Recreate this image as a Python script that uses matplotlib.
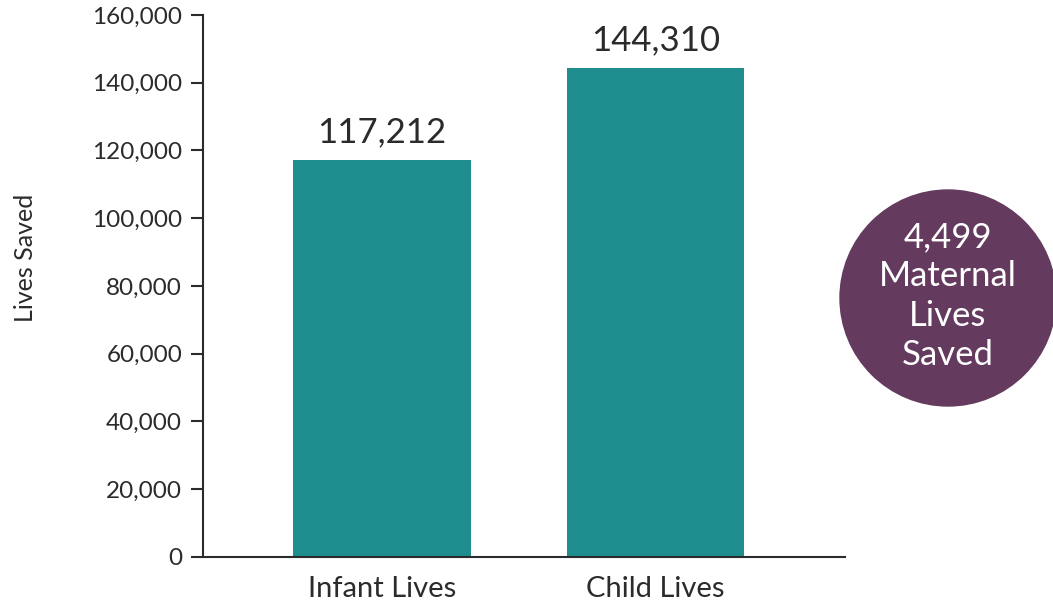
import matplotlib
matplotlib.use("Agg")
from matplotlib import pyplot as plt
from matplotlib.patches import Ellipse

categories = ["Infant Lives", "Child Lives"]
lives_saved = [117212, 144310]
maternal_saved = 4499
yticks = [0, 20000, 40000, 60000, 80000, 100000, 120000, 140000, 160000]

teal = "#1e8e8e"
purple = "#643a5e"
dark = "#2b2b2b"

plt.rcParams["font.family"] = ["Lato", "DejaVu Sans"]

fig = plt.figure(figsize=(10.53, 6.07), dpi=100)
ax = fig.add_axes([0.1928, 0.0824, 0.61, 0.893])

xs = range(len(categories))
ax.bar(xs, lives_saved, width=0.65, color=teal)
for x, v in zip(xs, lives_saved):
    ax.text(x, v + 3500, "{:,}".format(v), ha="center", va="bottom",
            fontsize=25, color=dark)

ax.set_xlim(-0.656, 1.696)
ax.set_ylim(0, 160000)
ax.set_yticks(yticks)
ax.set_yticklabels(["{:,}".format(t) for t in yticks])
ax.set_xticks(list(xs))
ax.set_xticklabels(categories)
ax.tick_params(axis="y", length=9, width=1.5, color=dark, labelsize=17.5,
               labelcolor=dark, pad=6)
ax.tick_params(axis="x", length=0, labelsize=21, labelcolor=dark, pad=14)
for side in ["top", "right"]:
    ax.spines[side].set_visible(False)
for side in ["left", "bottom"]:
    ax.spines[side].set_color(dark)
    ax.spines[side].set_linewidth(1.5)
ax.set_ylabel("Lives Saved", fontsize=18, color=dark)
ax.yaxis.set_label_coords(37 / 1053, 1 - 258 / 607, transform=fig.transFigure)

# maternal bubble on the right
circ = Ellipse((948 / 1053, 1 - 298 / 607), 216 / 1053, 216 / 607,
               transform=fig.transFigure, color=purple, clip_on=False)
fig.patches.append(circ)
fig.text(948 / 1053, 1 - 296 / 607,
         "{:,}\nMaternal\nLives\nSaved".format(maternal_saved),
         ha="center", va="center", color="white", fontsize=25,
         linespacing=1.27)

fig.savefig("out.png", dpi=100)
